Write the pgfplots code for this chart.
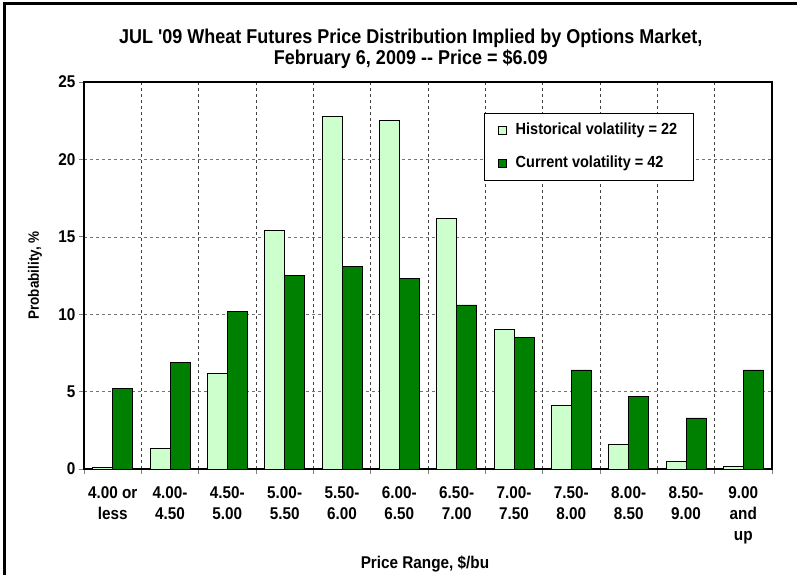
\documentclass[border=0pt]{standalone}
\usepackage{fontspec}
\setmainfont{Liberation Sans}
\newfontfamily\cf{Liberation Sans}[FakeStretch=0.9, Ligatures=TeXOff]
\usepackage{pgfplots}
\pgfplotsset{compat=1.18}
\definecolor{histg}{HTML}{CCFFCC}
\definecolor{curg}{HTML}{008000}
\begin{document}
\begin{tikzpicture}
\path[use as bounding box] (0pt,0pt) rectangle (797pt,574pt);
\draw[line width=3pt] (4pt,-20pt) rectangle (820pt,570.5pt);
\begin{axis}[
  at={(84pt,105pt)}, anchor=south west,
  scale only axis, width=688pt, height=387pt,
  ymin=0, ymax=25, ytick={0,5,...,25},
  xmin=-0.5, xmax=11.5,
  ybar=0pt, bar width=20pt,
  xtick={0,...,11},
  xticklabels={{4.00 or\\less},{4.00-\\4.50},{4.50-\\5.00},{5.00-\\5.50},{5.50-\\6.00},{6.00-\\6.50},{6.50-\\7.00},{7.00-\\7.50},{7.50-\\8.00},{8.00-\\8.50},{8.50-\\9.00},{9.00\\and\\up}},
  minor xtick={-0.5,0.5,...,11.5},
  xminorgrids, ymajorgrids,
  minor x grid style={dashed, black!75, line width=0.6pt},
  major y grid style={dashed, black!55, line width=0.6pt},
  major x tick style={draw=none},
  minor x tick style={black!50, line width=0.8pt},
  y tick style={black!50, line width=0.8pt},
  tick align=outside, major tick length=5pt, minor tick length=5pt,
  xtick pos=bottom, ytick pos=left,
  axis line style={line width=1.6pt},
  /pgf/number format/assume math mode=true,
  ticklabel style={font=\cf\fontsize{17}{21}\selectfont\bfseries},
  x tick label style={align=center, yshift=-9pt},
  xlabel={Price Range, \$/bu},
  ylabel={Probability, \%},
  xlabel style={at={(axis description cs:0.4956,-0.2455)}, anchor=center, font=\cf\fontsize{17}{18}\selectfont\bfseries},
  ylabel style={at={(axis description cs:-0.0712,0.5)}, anchor=center, font=\cf\fontsize{15}{18}\selectfont\bfseries},
  title={JUL '09 Wheat Futures Price Distribution Implied by Options Market,\\February 6, 2009 -- Price = \$6.09},
  title style={at={(axis description cs:0.475,1.071)}, anchor=center, align=center, font=\cf\fontsize{20}{21}\selectfont\bfseries},
  legend style={at={(axis description cs:0.581,0.92)}, anchor=north west, draw=black, line width=0.8pt, fill=white,
    font=\cf\fontsize{16.1}{18}\selectfont\bfseries, inner xsep=14pt, inner ysep=7.5pt, row sep=14pt, column sep=7pt,
    nodes={text height=12pt, text depth=3pt, inner sep=2pt}},
  legend cell align=left,
  legend image code/.code={\draw[#1, line width=0.6pt] (0pt,-4pt) rectangle (8pt,4pt);},
]
\addplot[fill=histg, draw=black, line width=0.8pt] coordinates {
(0,0.1) (1,1.3) (2,6.2) (3,15.4) (4,22.8) (5,22.5) (6,16.2) (7,9.0) (8,4.1) (9,1.6) (10,0.5) (11,0.2)};
\addplot[fill=curg, draw=black, line width=0.8pt] coordinates {
(0,5.2) (1,6.9) (2,10.2) (3,12.5) (4,13.1) (5,12.3) (6,10.6) (7,8.5) (8,6.4) (9,4.7) (10,3.3) (11,6.4)};
\legend{Historical volatility = 22, Current volatility = 42}
\end{axis}
\end{tikzpicture}
\end{document}
